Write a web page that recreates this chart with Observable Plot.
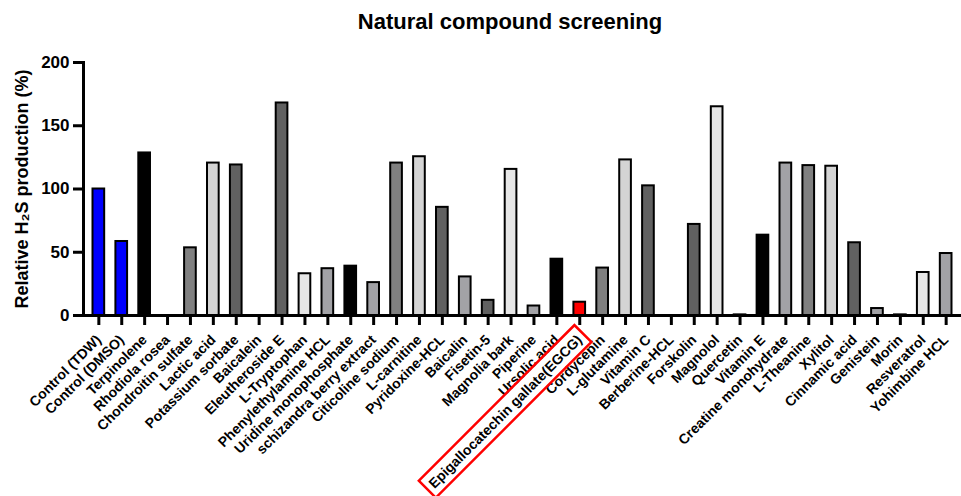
<!DOCTYPE html>
<html><head><meta charset="utf-8">
<script src="https://cdn.jsdelivr.net/npm/d3@7"></script>
<script src="https://cdn.jsdelivr.net/npm/@observablehq/plot@0.6"></script>
<style>
body{margin:0;background:#fff;font-family:"Liberation Sans",Arial,sans-serif;}
#title{height:40px;line-height:43px;font-size:22px;font-weight:bold;text-align:center;padding-left:59px;color:#000;white-space:nowrap;}
#chart svg{display:block;}
</style></head><body>
<div id="title">Natural compound screening</div>
<div id="chart"></div>
<script>
const compounds = ["Control (TDW)","Control (DMSO)","Terpinolene","Rhodiola rosea","Chondroitin sulfate","Lactic acid","Potassium sorbate","Baicalein","Eleutheroside E","L-Tryptophan","Phenylethylamine HCL","Uridine monophosphate","schizandra berry extract","Citicoline sodium","L-carnitine","Pyridoxine-HCL","Baicalin","Fisetin-5","Magnolia bark","Piperine","Ursolic acid","Epigallocatechin gallate(EGCG)","Cordycepin","L-glutamine","Vitamin C","Berberine-HCL","Forskolin","Magnolol","Quercetin","Vitamin E","Creatine monohydrate","L-Theanine","Xylitol","Cinnamic acid","Genistein","Morin","Resveratrol","Yohimbine HCL"];
const production = [100,58.5,128.5,0,53.5,120.5,119,0,168,33,37,39,26,120.5,125.5,85.5,30.5,12,115.5,7.5,44.5,10.5,37.5,123,102.5,0,72,165,0.5,63.5,120.5,118.5,118,57.5,5.5,0.5,34,49];
const yTicks = [0,50,100,150,200];
const yLabel = "Relative H₂S production (%)";
const highlighted = "Epigallocatechin gallate(EGCG)";

// styling (kept apart from the data)
const BLUE="#0000fe", BLK="#000000", G1="#616161", G2="#808080", G3="#a2a2a6", G4="#d4d4d4", G5="#e6e6e6", RED="#ff0000";
const barFills = [BLUE,BLUE,BLK,G2,G2,G4,G1,G1,G1,G5,G3,BLK,G3,G2,G4,G1,G3,G1,G5,G3,BLK,RED,G2,G4,G1,G1,G1,G5,G3,BLK,G3,G2,G4,G1,G3,G3,G5,G3];

const table = compounds.map((name,i)=>({name, value: production[i], fill: barFills[i]}));

const chart = Plot.plot({
  width: 961, height: 456,
  marginTop: 22, marginBottom: 181, marginLeft: 83, marginRight: 0,
  style: {fontFamily: "'Liberation Sans', Arial, sans-serif", fontWeight: "bold", color: "#000", background: "#fff", overflow: "visible"},
  x: {domain: compounds, paddingInner: 0.49, paddingOuter: 0.415, round: false, label: null},
  y: {domain: [0,200], label: null},
  color: {type: "identity"},
  marks: [
    Plot.barY(table, {x: "name", y: "value", fill: "fill", stroke: "#000", strokeWidth: 2}),
    Plot.ruleY([0], {stroke: "#000", strokeWidth: 3}),
    Plot.frame({anchor: "left", stroke: "#000", strokeWidth: 3}),
    Plot.axisY({ticks: yTicks, tickSize: 10, tickPadding: 4, strokeWidth: 3, fontSize: 17, label: null}),
    Plot.axisX({tickRotate: -45, tickSize: 10, tickPadding: 12, strokeWidth: 3, fontSize: 14, label: null}),
    Plot.text([yLabel], {text: d => d, frameAnchor: "left", textAnchor: "middle", lineAnchor: "middle", rotate: -90, dx: -61, fontSize: 18, fill: "#000"})
  ]
});
document.getElementById("chart").appendChild(chart);

chart.querySelectorAll("text").forEach(t => {
  if (t.textContent === highlighted) {
    const b = t.getBBox();
    const r = document.createElementNS("http://www.w3.org/2000/svg", "rect");
    r.setAttribute("x", b.x - 5);
    r.setAttribute("y", b.y - 4);
    r.setAttribute("width", b.width + 10);
    r.setAttribute("height", b.height + 8);
    r.setAttribute("fill", "none");
    r.setAttribute("stroke", "#ff0000");
    r.setAttribute("stroke-width", 2.5);
    const tr = t.getAttribute("transform");
    if (tr) r.setAttribute("transform", tr);
    t.parentNode.appendChild(r);
  }
});
</script>
</body></html>
